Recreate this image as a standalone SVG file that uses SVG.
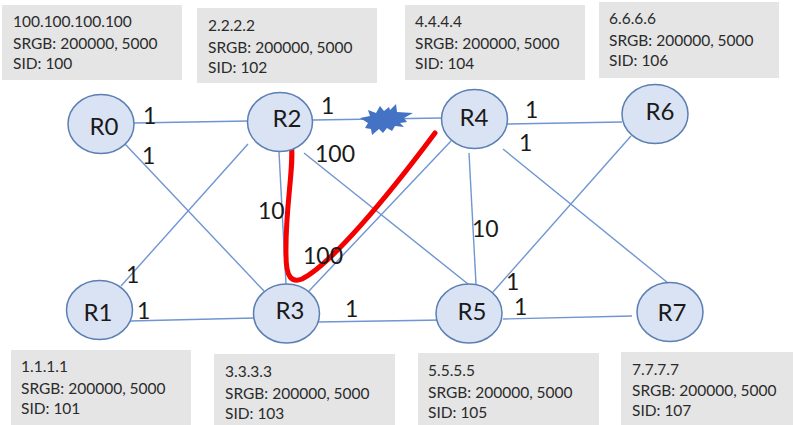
<svg xmlns="http://www.w3.org/2000/svg" width="793" height="425" viewBox="0 0 793 425">
<style>
.box{fill:#e5e5e5}
.info{font-family:Lato,"Open Sans",sans-serif;font-size:15.500px;fill:#2b2b2b}
.node{fill:#dae3f3;stroke:#5b7fb2;stroke-width:1.5}
.name{font-family:Lato,"Open Sans",sans-serif;font-size:24px;fill:#1a1a1a;text-anchor:middle}
.w{font-family:Lato,"Open Sans",sans-serif;font-size:23px;fill:#1a1a1a}
.link{stroke:#6f95d2;stroke-width:1.4;fill:none}
</style>
<rect width="793" height="425" fill="#fff"/>
<g id="connectors">
<path class="link" d="M134 123L248 121"/>
<path class="link" d="M125 144L264 291"/>
<path class="link" d="M248 144L121 286"/>
<path class="link" d="M130 321L254 318"/>
<path class="link" d="M279 152L286 284"/>
<path class="link" d="M304 153L468 284"/>
<path class="link" d="M313 120L442 118"/>
<path class="link" d="M451 141L309 291"/>
<path class="link" d="M318 322L443 320"/>
<path class="link" d="M469 153L476 284"/>
<path class="link" d="M507 124L622 122"/>
<path class="link" d="M631 136L493 292"/>
<path class="link" d="M503 149L668 283"/>
<path class="link" d="M503 319L632 316"/>
</g>
<polygon id="break" fill="#4472c4" points="360,118 370,116 368,110 376,113 380,106 384,111 389,107 390,110 396,104 397,112 413,113 404,118 407,122 400,123 404,127 395,126 392,131 387,128 383,133 379,129 372,135 371,129 365,128 368,123"/>
<path id="path" d="M291 140C295 165 285 205 286 255C286 278 292 283 302 279C330 265 385 200 435 133" fill="none" stroke="#f50000" stroke-width="5" stroke-linecap="round"/>
<g id="R0"><ellipse class="node" cx="101" cy="124" rx="33" ry="29.500"/><text class="name" x="104" y="135">R0</text></g>
<g id="R1"><ellipse class="node" cx="99.500" cy="310" rx="33" ry="29.500"/><text class="name" x="98" y="321">R1</text></g>
<g id="R2"><ellipse class="node" cx="280" cy="122" rx="32.500" ry="29.500"/><text class="name" x="287" y="127">R2</text></g>
<g id="R3"><ellipse class="node" cx="286.500" cy="313.500" rx="33" ry="29.500"/><text class="name" x="290" y="319">R3</text></g>
<g id="R4"><ellipse class="node" cx="474.500" cy="119" rx="33" ry="29.500"/><text class="name" x="474" y="126">R4</text></g>
<g id="R5"><ellipse class="node" cx="469" cy="313.500" rx="33" ry="29.500"/><text class="name" x="472" y="320">R5</text></g>
<g id="R6"><ellipse class="node" cx="655" cy="114" rx="33" ry="29.500"/><text class="name" x="660" y="120">R6</text></g>
<g id="R7"><ellipse class="node" cx="670" cy="312" rx="33" ry="29.500"/><text class="name" x="672" y="321">R7</text></g>
<g id="labels">
<text class="w" x="143" y="124">1</text>
<text class="w" x="142" y="164">1</text>
<text class="w" x="126" y="283">1</text>
<text class="w" x="137" y="319">1</text>
<text class="w" x="321" y="114">1</text>
<text class="w" x="315" y="162">100</text>
<text class="w" x="258" y="219">10</text>
<text class="w" x="303" y="264">100</text>
<text class="w" x="345" y="317">1</text>
<text class="w" x="525" y="118">1</text>
<text class="w" x="519" y="151">1</text>
<text class="w" x="472" y="237">10</text>
<text class="w" x="506" y="290">1</text>
<text class="w" x="514" y="315">1</text>
</g>
<g id="info-R0"><rect class="box" x="2" y="5" width="180" height="75"/><text class="info" x="13" y="27">100.100.100.100</text><text class="info" x="13" y="49">SRGB: 200000, 5000</text><text class="info" x="13" y="69">SID: 100</text></g>
<g id="info-R2"><rect class="box" x="197" y="8" width="180" height="75"/><text class="info" x="208" y="31">2.2.2.2</text><text class="info" x="208" y="53">SRGB: 200000, 5000</text><text class="info" x="208" y="73">SID: 102</text></g>
<g id="info-R4"><rect class="box" x="405" y="5" width="180" height="75"/><text class="info" x="415" y="27">4.4.4.4</text><text class="info" x="415" y="49">SRGB: 200000, 5000</text><text class="info" x="415" y="69">SID: 104</text></g>
<g id="info-R6"><rect class="box" x="599" y="2" width="180" height="76"/><text class="info" x="609" y="24">6.6.6.6</text><text class="info" x="609" y="46">SRGB: 200000, 5000</text><text class="info" x="609" y="66">SID: 106</text></g>
<g id="info-R1"><rect class="box" x="11" y="350" width="180" height="75"/><text class="info" x="21" y="372">1.1.1.1</text><text class="info" x="21" y="394">SRGB: 200000, 5000</text><text class="info" x="21" y="414">SID: 101</text></g>
<g id="info-R3"><rect class="box" x="214" y="354" width="181" height="71"/><text class="info" x="225" y="377">3.3.3.3</text><text class="info" x="225" y="399">SRGB: 200000, 5000</text><text class="info" x="225" y="419">SID: 103</text></g>
<g id="info-R5"><rect class="box" x="418" y="353" width="181" height="72"/><text class="info" x="428" y="376">5.5.5.5</text><text class="info" x="428" y="398">SRGB: 200000, 5000</text><text class="info" x="428" y="418">SID: 105</text></g>
<g id="info-R7"><rect class="box" x="621" y="352" width="172" height="73"/><text class="info" x="632" y="375">7.7.7.7</text><text class="info" x="632" y="396">SRGB: 200000, 5000</text><text class="info" x="632" y="416">SID: 107</text></g>
</svg>
